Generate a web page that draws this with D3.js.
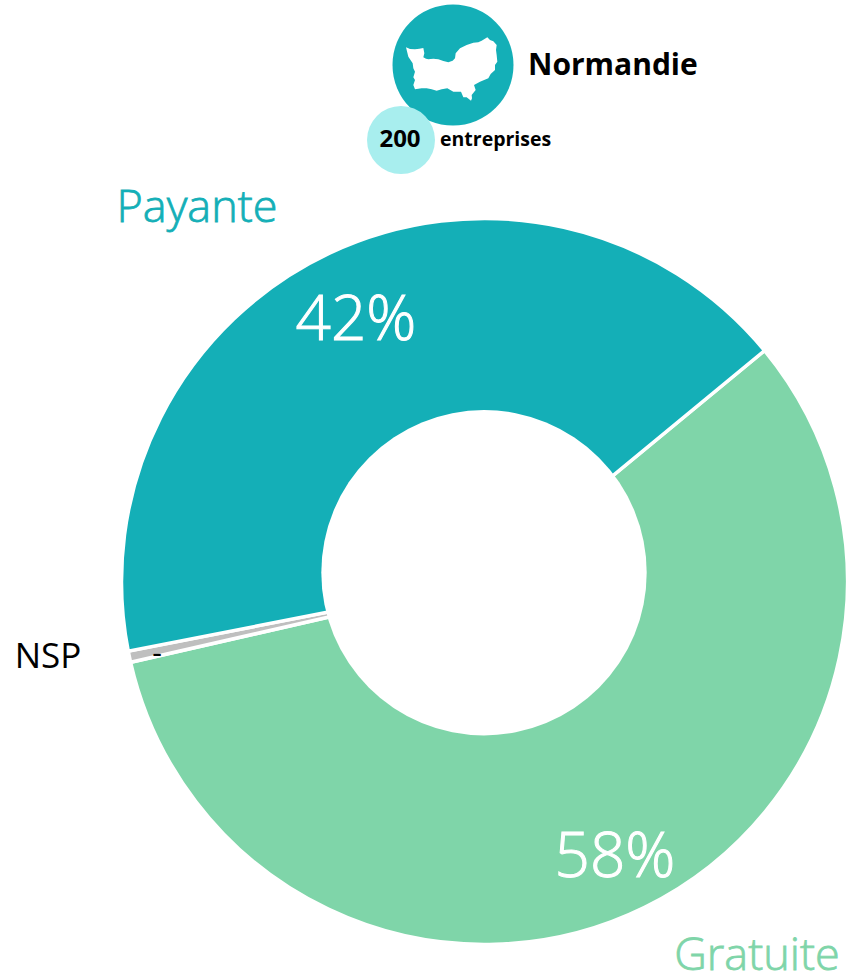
<!DOCTYPE html>
<html><head><meta charset="utf-8">
<script src="https://cdn.jsdelivr.net/npm/d3@7"></script>
<style>html,body{margin:0;padding:0;background:#fff}svg{display:block}text{font-family:"Open Sans","Noto Sans",sans-serif}</style>
</head><body><div id="c"></div>
<script>
const categories = ["Gratuite", "NSP", "Payante"];
const values = [57.4, 0.5, 42.1];
const valueLabels = ["58%", "-", "42%"];
const colors = ["#7FD5A9", "#BFBFBF", "#14AFB7"];
const regionName = "Normandie";
const sampleSize = "200";
const sampleLabel = "entreprises";
// Region silhouette, in icon units
const regionOutline = [[138,142],[150,147],[165,148],[178,146],[190,144],[193,160],[190,172],[198,176],[205,178],[220,176],[235,178],[250,183],[265,187],[278,182],[285,175],[287,160],[300,145],[320,135],[340,128],[355,127],[365,122],[382,112],[390,120],[400,124],[410,135],[408,150],[410,165],[412,185],[405,195],[405,210],[392,222],[385,235],[360,245],[342,255],[347,270],[335,285],[336,295],[333,302],[320,292],[310,292],[303,275],[280,275],[262,265],[245,268],[230,272],[215,268],[200,265],[185,265],[165,268],[160,255],[165,240],[160,232],[165,215],[160,205],[158,190],[145,170]];

const W = 846, H = 976;
const svg = d3.select("#c").append("svg").attr("width", W).attr("height", H);
const cx = 484.5, cy = 581.5, R = 363;
const holeX = 484, holeY = 572.7, holeR = 162.7;
const start = 50.5 * Math.PI / 180;
const pie = d3.pie().sort(null).value(d => d).startAngle(start).endAngle(start + 2 * Math.PI);
const arcs = pie(values);
const arc = d3.arc().innerRadius(0).outerRadius(R);
const g = svg.append("g").attr("transform", `translate(${cx},${cy})`);
g.selectAll("path").data(arcs).join("path")
  .attr("d", arc).attr("fill", (d, i) => colors[i])
  .attr("stroke", "#fff").attr("stroke-width", 3.5);
svg.append("circle").attr("cx", holeX).attr("cy", holeY).attr("r", holeR).attr("fill", "#fff");

// labels: [x, baseline, size, colour, weight, extra stroke]
const labelPos = [[615, 877, 62, "#fff", 300, 1], [157, 663, 30, "#000", 400, 0], [356, 340, 62, "#fff", 300, 1]];
valueLabels.forEach((t, i) => {
  const p = labelPos[i];
  svg.append("text").attr("x", p[0]).attr("y", p[1])
    .attr("text-anchor", "middle").attr("font-size", p[2]).attr("font-weight", p[4]).attr("fill", p[3])
    .attr("stroke", p[5] ? p[3] : "none").attr("stroke-width", p[5]).text(t);
});
const catPos = [[757, 970, 45, colors[0], 300, 0.8], [48, 668, 35, "#000", 400, 0], [197, 222, 45, colors[2], 300, 0.8]];
categories.forEach((t, i) => {
  const p = catPos[i];
  svg.append("text").attr("x", p[0]).attr("y", p[1]).attr("text-anchor", "middle")
    .attr("font-size", p[2]).attr("font-weight", p[4]).attr("fill", p[3])
    .attr("stroke", p[5] ? p[3] : "none").attr("stroke-width", p[5]).text(t);
});

// header
svg.append("circle").attr("cx", 453).attr("cy", 65).attr("r", 60.5).attr("fill", "#14AFB7");
svg.append("circle").attr("cx", 401).attr("cy", 140).attr("r", 34).attr("fill", "#A8EEEE");
const ix = d3.scaleLinear().domain([0, 600]).range([360, 560]);
const iy = d3.scaleLinear().domain([0, 540]).range([0, 180]);
svg.append("path").attr("fill", "#fff")
  .attr("d", d3.line().x(d => ix(d[0])).y(d => iy(d[1])).curve(d3.curveLinearClosed)(regionOutline));
svg.append("text").attr("x", 528).attr("y", 75).attr("font-size", 30).attr("font-weight", 700).attr("fill", "#000").text(regionName);
svg.append("text").attr("x", 400).attr("y", 147).attr("text-anchor", "middle").attr("font-size", 24).attr("font-weight", 700).attr("fill", "#000").text(sampleSize);
svg.append("text").attr("x", 440).attr("y", 146).attr("font-size", 19.5).attr("font-weight", 700).attr("fill", "#000").text(sampleLabel);
</script></body></html>
